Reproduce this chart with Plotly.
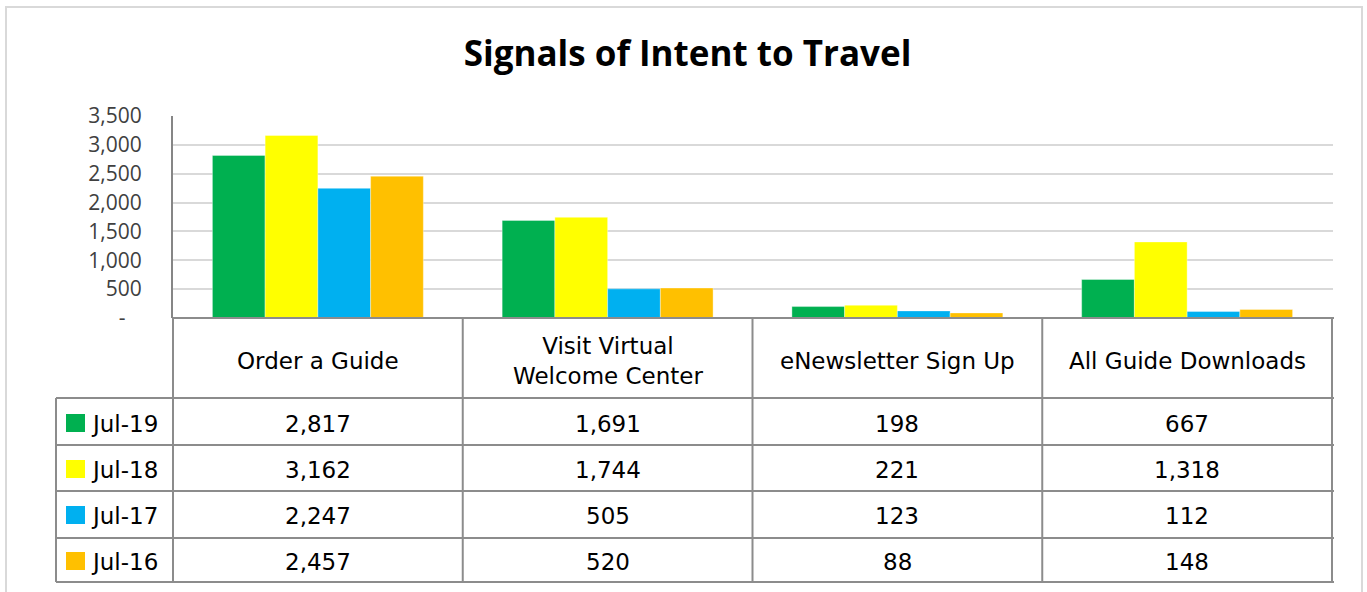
import plotly.graph_objects as go

categories = ["Order a Guide", "Visit Virtual Welcome Center", "eNewsletter Sign Up", "All Guide Downloads"]
category_labels = ["Order a Guide", "Visit Virtual<br>Welcome Center", "eNewsletter Sign Up", "All Guide Downloads"]
series_names = ["Jul-19", "Jul-18", "Jul-17", "Jul-16"]
jul19 = [2817, 1691, 198, 667]
jul18 = [3162, 1744, 221, 1318]
jul17 = [2247, 505, 123, 112]
jul16 = [2457, 520, 88, 148]
series_values = [jul19, jul18, jul17, jul16]
colors = ["#00B050", "#FFFF00", "#00B0F0", "#FFC000"]
tick_vals = [0, 500, 1000, 1500, 2000, 2500, 3000, 3500]
tick_text = ["-\u00a0\u00a0\u00a0", "500", "1,000", "1,500", "2,000", "2,500", "3,000", "3,500"]

W, H = 1367, 592
L, R, T, B = 173, 34, 116, 274
PW = W - L - R
PH = H - T - B

def px(x):
    return (x - L) / PW

def py(y):
    return (H - B - y) / PH

fig = go.Figure()
for name, vals, c in zip(series_names, series_values, colors):
    fig.add_trace(go.Bar(x=categories, y=vals, name=name,
                         marker=dict(color=c, line=dict(width=0.6, color="rgba(255,255,255,0.6)"))))

grid_col = "#8c8c8c"
shapes = []
shapes.append(dict(type="rect", xref="paper", yref="paper", x0=px(6), x1=px(1362), y0=py(640), y1=py(7),
                   line=dict(color="#d9d9d9", width=2), layer="below"))
shapes.append(dict(type="line", xref="paper", yref="paper", x0=px(173), x1=px(1334), y0=py(318), y1=py(318),
                   line=dict(color=grid_col, width=2)))
for yy in [398, 445, 491, 538, 582]:
    shapes.append(dict(type="line", xref="paper", yref="paper", x0=px(56), x1=px(1334), y0=py(yy), y1=py(yy),
                       line=dict(color=grid_col, width=2)))
shapes.append(dict(type="line", xref="paper", yref="paper", x0=px(56), x1=px(56), y0=py(398), y1=py(582),
                   line=dict(color=grid_col, width=2)))
shapes.append(dict(type="line", xref="paper", yref="paper", x0=px(173), x1=px(173), y0=py(318), y1=py(582),
                   line=dict(color=grid_col, width=2)))
for i in range(len(categories)):
    shapes.append(dict(type="line", xref="x", yref="paper", x0=i + 0.5, x1=i + 0.5, y0=py(318), y1=py(582),
                       line=dict(color=grid_col, width=2)))

annotations = []
font_tbl = dict(family="DejaVu Sans, sans-serif", size=23, color="#000000")
row_centers = [424, 470, 516, 562]
for i, lab in enumerate(category_labels):
    annotations.append(dict(x=categories[i], y=py(361), xref="x", yref="paper", text=lab, showarrow=False,
                            font=font_tbl, xanchor="center", yanchor="middle"))
for r, (name, vals, c) in enumerate(zip(series_names, series_values, colors)):
    yc = row_centers[r]
    shapes.append(dict(type="rect", xref="paper", yref="paper", x0=px(66), x1=px(85), y0=py(yc + 8), y1=py(yc - 10),
                       fillcolor=c, line=dict(width=0)))
    annotations.append(dict(x=px(89), y=py(yc), xref="paper", yref="paper", text=name, showarrow=False,
                            font=font_tbl, xanchor="left", yanchor="middle"))
    for i, v in enumerate(vals):
        annotations.append(dict(x=categories[i], y=py(yc), xref="x", yref="paper", text=f"{v:,}", showarrow=False,
                                font=font_tbl, xanchor="center", yanchor="middle"))

fig.update_layout(
    width=W, height=H,
    margin=dict(l=L, r=R, t=T, b=B),
    paper_bgcolor="white", plot_bgcolor="white",
    barmode="group", bargap=0.272, bargroupgap=0,
    showlegend=False,
    title=dict(text="<b>Signals of Intent to Travel</b>", x=687.5 / W, xref="container", xanchor="center",
               y=1 - 54 / H, yref="container", yanchor="middle",
               font=dict(family="Open Sans, sans-serif", size=35, color="#000000")),
    shapes=shapes, annotations=annotations,
)
fig.update_xaxes(showticklabels=False, showgrid=False, zeroline=False, showline=False, ticks="")
fig.update_yaxes(range=[0, 3500], tickvals=tick_vals, ticktext=tick_text, showgrid=True, gridcolor="#d9d9d9", gridwidth=2,
                 zeroline=False, showline=True, linecolor="#868686", linewidth=2, ticks="", ticklabelstandoff=25,
                 tickfont=dict(family="Open Sans, sans-serif", size=21, color="#404040"))

fig.write_html("out.html", config={"displayModeBar": False},
               post_script="document.body.style.margin='0';document.body.style.overflow='hidden';")
